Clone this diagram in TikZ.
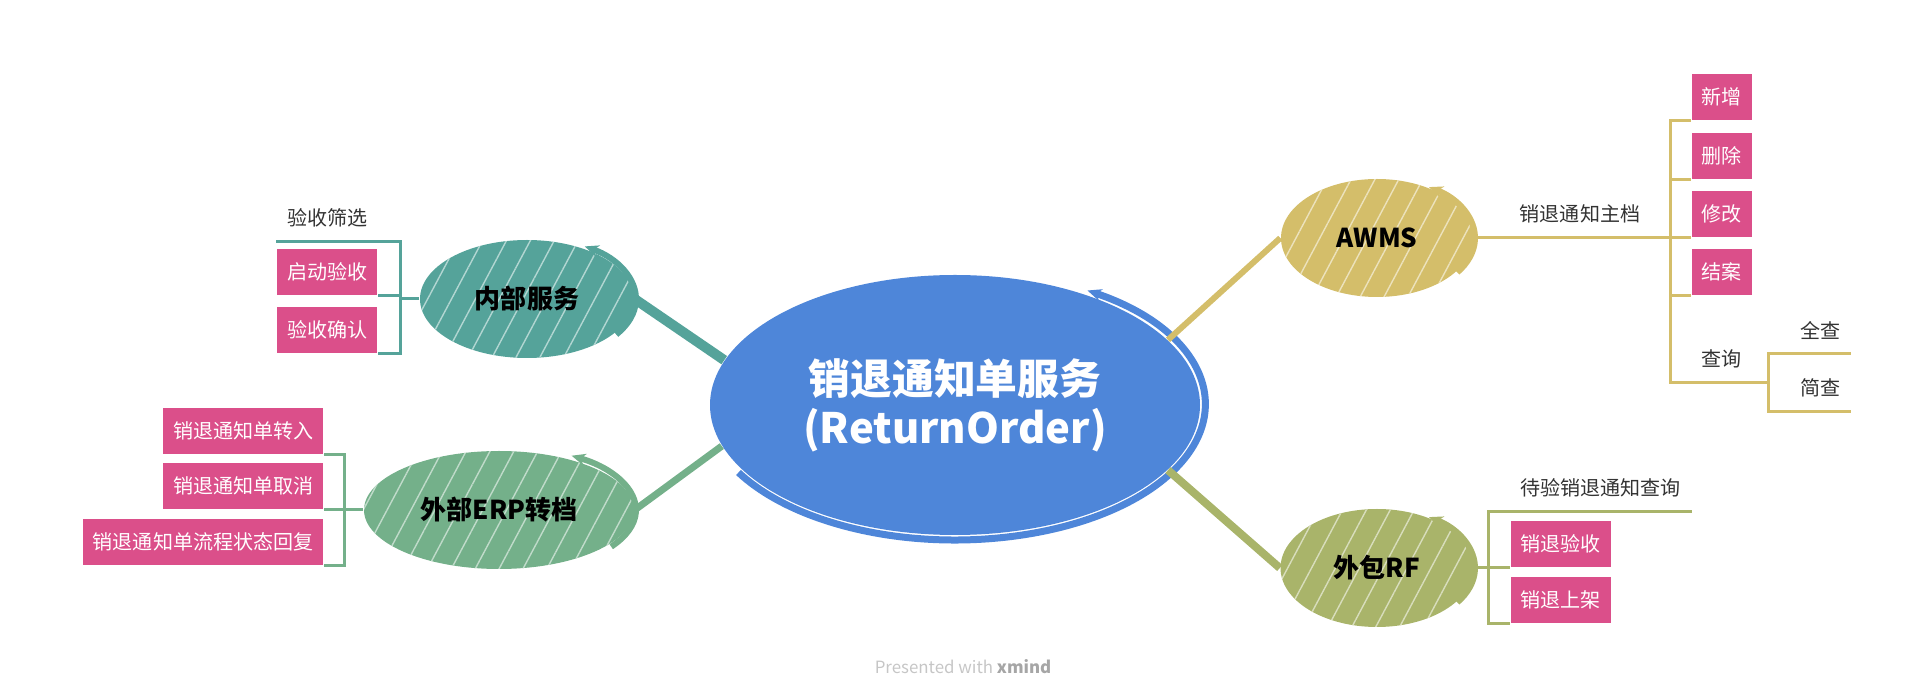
\documentclass[tikz,border=0pt]{standalone}
\usepackage{fontspec}
\setmainfont{Noto Sans CJK SC}
\usetikzlibrary{arrows.meta,shapes.geometric,patterns.meta}
\definecolor{hubblue}{HTML}{4E86D9}
\definecolor{innerteal}{HTML}{55A39A}
\definecolor{erpgreen}{HTML}{74B08A}
\definecolor{awmsgold}{HTML}{D4BE6A}
\definecolor{rfolive}{HTML}{A9B46A}
\definecolor{leafpink}{HTML}{DB4F8A}
\definecolor{notegray}{HTML}{333333}

\begin{document}
\begin{tikzpicture}[
  hub/.style={ellipse, fill=hubblue, minimum width=4.9cm, minimum height=2.6cm, inner sep=0pt,
              align=center, text=white, font=\fontsize{11.9}{14}\selectfont\bfseries},
  topic/.style={ellipse, fill=#1, minimum height=1.18cm, inner sep=0pt,
                font=\fontsize{7.4}{8.8}\selectfont\bfseries,
                postaction={pattern={Lines[angle=62,distance=6pt,line width=0.4pt]},
                            pattern color=#1!45!white}},
  leaf/.style={fill=leafpink, text=white, inner xsep=0.1cm, minimum height=0.46cm,
               font=\fontsize{5.7}{6.8}\selectfont},
  note/.style={text=notegray, inner xsep=0.1cm, minimum height=0.46cm,
               font=\fontsize{5.7}{6.8}\selectfont},
  link/.style={line width=0.03cm},
  ring/.style={line width=0.06cm, {Stealth[length=0.14cm,width=0.12cm]}-}
]
\useasboundingbox (0,0) rectangle (19.27,-6.99);

% Central topic
\node[hub] (hub) at (9.55,-4.05) {销退通知单服务\\(ReturnOrder)};
\draw[ring, hubblue, line width=0.07cm] ([shift={(58:2.50 and 1.35)}]hub.center)
  arc[start angle=58, end angle=-150, x radius=2.50, y radius=1.35];

% Main branches
\node[topic=innerteal, minimum width=2.14cm] (inner) at (5.27,-2.99) {内部服务};
\node[topic=erpgreen, minimum width=2.70cm] (erp) at (4.99,-5.10) {外部ERP转档};
\node[topic=awmsgold, minimum width=1.92cm] (awms) at (13.77,-2.38) {AWMS};
\node[topic=rfolive, minimum width=1.93cm] (rf) at (13.77,-5.68) {外包RF};

\draw[ring, innerteal] ([shift={(58:1.09 and 0.62)}]inner.center)
  arc[start angle=58, end angle=-35, x radius=1.09, y radius=0.62];
\draw[ring, erpgreen] ([shift={(58:1.37 and 0.64)}]erp.center)
  arc[start angle=58, end angle=-35, x radius=1.37, y radius=0.64];
\draw[ring, awmsgold] ([shift={(58:0.98 and 0.60)}]awms.center)
  arc[start angle=58, end angle=-35, x radius=0.98, y radius=0.60];
\draw[ring, rfolive] ([shift={(58:0.98 and 0.60)}]rf.center)
  arc[start angle=58, end angle=-35, x radius=0.98, y radius=0.60];

% Links to the central topic
\draw[innerteal, line width=0.10cm] (hub.169) -- (inner.east);
\draw[erpgreen, line width=0.07cm] (hub.190) -- (erp.east);
\draw[awmsgold, line width=0.06cm] (hub.17) -- (awms.west);
\draw[rfolive, line width=0.08cm] (hub.343) -- (rf.west);

% Inner service
\node[note, anchor=south east] (filter) at (3.78,-2.42) {验收筛选};
\node[leaf, anchor=south east] (start) at (3.78,-2.96) {启动验收};
\node[leaf, anchor=south east] (confirm) at (3.78,-3.54) {验收确认};
\coordinate (innerfork) at (4.00,-2.99);
\draw[link, innerteal] (inner.west) -- (innerfork) |- (filter.south east) -- (filter.south west);
\draw[link, innerteal] (innerfork) |- (start.south east);
\draw[link, innerteal] (innerfork) |- (confirm.south east);

% External ERP
\node[leaf, anchor=south east] (erpin) at (3.24,-4.55) {销退通知单转入};
\node[leaf, anchor=south east] (erpcancel) at (3.24,-5.10) {销退通知单取消};
\node[leaf, anchor=south east] (erpreply) at (3.24,-5.66) {销退通知单流程状态回复};
\coordinate (erpfork) at (3.44,-5.10);
\draw[link, erpgreen] (erp.west) -- (erpfork) |- (erpin.south east);
\draw[link, erpgreen] (erpfork) |- (erpcancel.south east);
\draw[link, erpgreen] (erpfork) |- (erpreply.south east);

% AWMS
\node[note, anchor=south] (master) at (15.80,-2.38) {销退通知主档};
\coordinate (awmsfork) at (16.70,-2.38);
\draw[link, awmsgold] (awms.east) -- (awmsfork);
\node[leaf, anchor=south west] (add) at (16.91,-1.21) {新增};
\node[leaf, anchor=south west] (del) at (16.91,-1.80) {删除};
\node[leaf, anchor=south west] (edit) at (16.91,-2.38) {修改};
\node[leaf, anchor=south west] (close) at (16.91,-2.96) {结案};
\node[note, anchor=south west] (query) at (16.91,-3.83) {查询};
\draw[link, awmsgold] (awmsfork) |- (add.south west);
\draw[link, awmsgold] (awmsfork) |- (del.south west);
\draw[link, awmsgold] (awmsfork) -- (edit.south west);
\draw[link, awmsgold] (awmsfork) |- (close.south west);
\coordinate (queryfork) at (17.68,-3.83);
\draw[link, awmsgold] (awmsfork) |- (query.south west) -- (queryfork);
\node[note, anchor=south west] (all) at (17.90,-3.54) {全查};
\node[note, anchor=south west] (simple) at (17.90,-4.12) {简查};
\draw[link, awmsgold] (queryfork) |- (all.south west) -- (all.south east);
\draw[link, awmsgold] (queryfork) |- (simple.south west) -- (simple.south east);

% Outsourced RF
\node[note, anchor=south west] (pending) at (15.10,-5.12) {待验销退通知查询};
\node[leaf, anchor=south west] (check) at (15.10,-5.68) {销退验收};
\node[leaf, anchor=south west] (shelf) at (15.10,-6.24) {销退上架};
\coordinate (rffork) at (14.88,-5.68);
\draw[link, rfolive] (rf.east) -- (rffork) |- (pending.south west) -- (pending.south east);
\draw[link, rfolive] (rffork) -- (check.south west);
\draw[link, rfolive] (rffork) |- (shelf.south west);

% Footer
\node[text=gray!45, font=\fontsize{4.8}{5.8}\selectfont] (credit) at (9.63,-6.67)
  {Presented with \textcolor{gray!70}{\bfseries xmind}};

\end{tikzpicture}
\end{document}
